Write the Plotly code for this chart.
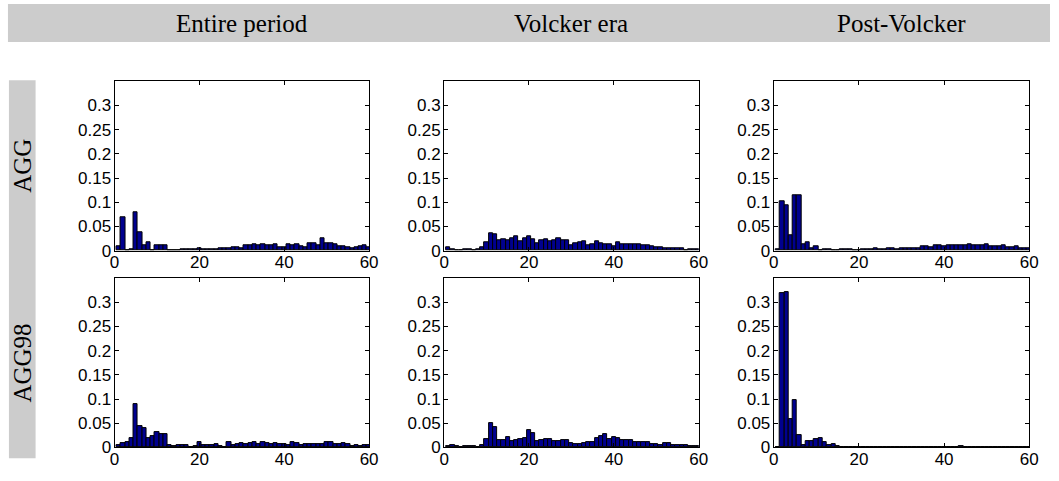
import plotly.graph_objects as go

lags = list(range(1, 61))

agg_entire = [0.009, 0.069, 0.000, 0.003, 0.080, 0.038, 0.011, 0.017, 0.001, 0.011,
              0.011, 0.011, 0.000, 0.000, 0.001, 0.002, 0.002, 0.002, 0.003, 0.005,
              0.002, 0.003, 0.003, 0.003, 0.004, 0.006, 0.006, 0.008, 0.008, 0.005,
              0.011, 0.011, 0.013, 0.011, 0.013, 0.012, 0.012, 0.013, 0.008, 0.008,
              0.014, 0.011, 0.014, 0.009, 0.008, 0.016, 0.015, 0.012, 0.026, 0.016,
              0.015, 0.013, 0.009, 0.009, 0.008, 0.006, 0.008, 0.010, 0.011, 0.008]

agg_volcker = [0.008, 0.002, 0.001, 0.001, 0.003, 0.003, 0.001, 0.002, 0.007, 0.018,
               0.035, 0.034, 0.022, 0.023, 0.022, 0.026, 0.030, 0.019, 0.026, 0.029,
               0.024, 0.016, 0.021, 0.024, 0.020, 0.022, 0.025, 0.021, 0.022, 0.012,
               0.016, 0.018, 0.020, 0.012, 0.013, 0.019, 0.015, 0.014, 0.014, 0.010,
               0.018, 0.014, 0.013, 0.013, 0.013, 0.013, 0.011, 0.011, 0.009, 0.008,
               0.007, 0.006, 0.006, 0.006, 0.006, 0.006, 0.001, 0.003, 0.003, 0.003]

agg_post = [0.002, 0.103, 0.093, 0.031, 0.114, 0.114, 0.013, 0.018, 0.005, 0.010,
            0.001, 0.003, 0.002, 0.001, 0.001, 0.002, 0.002, 0.002, 0.001, 0.001,
            0.002, 0.002, 0.002, 0.004, 0.003, 0.003, 0.004, 0.004, 0.003, 0.005,
            0.005, 0.005, 0.005, 0.005, 0.009, 0.010, 0.008, 0.012, 0.011, 0.009,
            0.011, 0.011, 0.011, 0.011, 0.011, 0.013, 0.011, 0.011, 0.011, 0.013,
            0.010, 0.010, 0.009, 0.011, 0.007, 0.008, 0.009, 0.006, 0.006, 0.006]

agg98_entire = [0.004, 0.009, 0.011, 0.020, 0.090, 0.044, 0.040, 0.020, 0.023, 0.032,
                0.028, 0.027, 0.006, 0.002, 0.004, 0.004, 0.004, 0.000, 0.002, 0.011,
                0.004, 0.004, 0.005, 0.007, 0.002, 0.001, 0.011, 0.005, 0.007, 0.009,
                0.008, 0.009, 0.011, 0.008, 0.011, 0.010, 0.008, 0.009, 0.008, 0.008,
                0.004, 0.011, 0.010, 0.006, 0.008, 0.008, 0.008, 0.007, 0.007, 0.012,
                0.011, 0.007, 0.008, 0.010, 0.008, 0.002, 0.004, 0.003, 0.006, 0.006]

agg98_volcker = [0.002, 0.006, 0.003, 0.001, 0.002, 0.002, 0.002, 0.001, 0.006, 0.017,
                 0.050, 0.042, 0.016, 0.015, 0.021, 0.013, 0.016, 0.017, 0.019, 0.035,
                 0.030, 0.014, 0.015, 0.017, 0.017, 0.014, 0.013, 0.015, 0.016, 0.009,
                 0.008, 0.008, 0.010, 0.011, 0.012, 0.020, 0.023, 0.028, 0.017, 0.021,
                 0.020, 0.016, 0.016, 0.015, 0.012, 0.012, 0.012, 0.012, 0.008, 0.007,
                 0.006, 0.009, 0.009, 0.006, 0.004, 0.006, 0.004, 0.003, 0.003, 0.003]

agg98_post = [0.000, 0.318, 0.321, 0.058, 0.097, 0.026, 0.005, 0.014, 0.013, 0.017,
              0.020, 0.012, 0.006, 0.007, 0.002, 0.001, 0.001, 0.000, 0.001, 0.001,
              0.001, 0.001, 0.001, 0.001, 0.000, 0.000, 0.000, 0.000, 0.000, 0.000,
              0.000, 0.000, 0.000, 0.000, 0.001, 0.001, 0.000, 0.000, 0.001, 0.001,
              0.001, 0.000, 0.001, 0.002, 0.000, 0.000, 0.001, 0.001, 0.000, 0.000,
              0.000, 0.000, 0.000, 0.000, 0.000, 0.000, 0.000, 0.000, 0.000, 0.000]

col_titles = ["Entire period", "Volcker era", "Post-Volcker"]
row_titles = ["AGG", "AGG98"]
panels = [[agg_entire, agg_volcker, agg_post],
          [agg98_entire, agg98_volcker, agg98_post]]

xticks = [0, 20, 40, 60]
yticks = [0, 0.05, 0.1, 0.15, 0.2, 0.25, 0.3]
ytick_text = ["0", "0.05", "0.1", "0.15", "0.2", "0.25", "0.3"]

W, H = 1059, 481
col_px = [(111, 369), (445, 703), (779, 1038)]
row_px = [(83, 256), (284, 457)]

fig = go.Figure()
layout = {}
tickfont = dict(family="Liberation Sans, Arial, sans-serif", size=17, color="black")
n = 0
for r in range(2):
    for c in range(3):
        n += 1
        xa = "x" if n == 1 else f"x{n}"
        ya = "y" if n == 1 else f"y{n}"
        fig.add_trace(go.Bar(
            x=lags, y=panels[r][c], xaxis=xa, yaxis=ya, width=1.0,
            marker=dict(color="#00008F", line=dict(color="black", width=1)),
            showlegend=False, hoverinfo="x+y"))
        x0, x1 = col_px[c]
        y0, y1 = row_px[r]
        layout["xaxis" if n == 1 else f"xaxis{n}"] = dict(
            domain=[x0 / W, x1 / W], anchor=ya, range=[0, 60],
            tickvals=xticks, ticks="inside", ticklen=4, tickcolor="black",
            showline=True, linecolor="black", linewidth=1, mirror="ticks",
            showgrid=False, zeroline=False, tickfont=tickfont, ticklabelstandoff=-4)
        layout["yaxis" if n == 1 else f"yaxis{n}"] = dict(
            domain=[1 - y1 / H, 1 - y0 / H], anchor=xa, range=[0, 0.35],
            tickvals=yticks, ticktext=ytick_text, ticks="inside", ticklen=4,
            tickcolor="black", showline=True, linecolor="black", linewidth=1,
            mirror="ticks", showgrid=False, zeroline=False, tickfont=tickfont,
            ticklabelstandoff=-1)

shapes = [
    dict(type="rect", xref="paper", yref="paper", x0=3 / W, x1=1.0,
         y0=1 - 43 / H, y1=1 - 4 / H, fillcolor="#cccccc", line=dict(width=0), layer="below"),
    dict(type="rect", xref="paper", yref="paper", x0=4 / W, x1=31 / W,
         y0=1 - 468 / H, y1=1 - 82 / H, fillcolor="#cccccc", line=dict(width=0), layer="below"),
]

serif = dict(family="Liberation Serif, DejaVu Serif, serif", size=25, color="black")
annotations = []
for c, t in enumerate(col_titles):
    cx = (col_px[c][0] + col_px[c][1]) / 2 / W
    annotations.append(dict(text=t, x=cx, y=1 - 23.5 / H, xref="paper", yref="paper",
                            showarrow=False, xanchor="center", yanchor="middle", font=serif))
for r, t in enumerate(row_titles):
    cy = 1 - (row_px[r][0] + row_px[r][1]) / 2 / H
    annotations.append(dict(text=t, x=18 / W, y=cy, xref="paper", yref="paper",
                            showarrow=False, xanchor="center", yanchor="middle",
                            textangle=-90, font=serif))

fig.update_layout(
    width=W, height=H, margin=dict(l=0, r=0, t=0, b=0),
    paper_bgcolor="white", plot_bgcolor="white", bargap=0,
    shapes=shapes, annotations=annotations, **layout)

fig.write_html("out.html")
